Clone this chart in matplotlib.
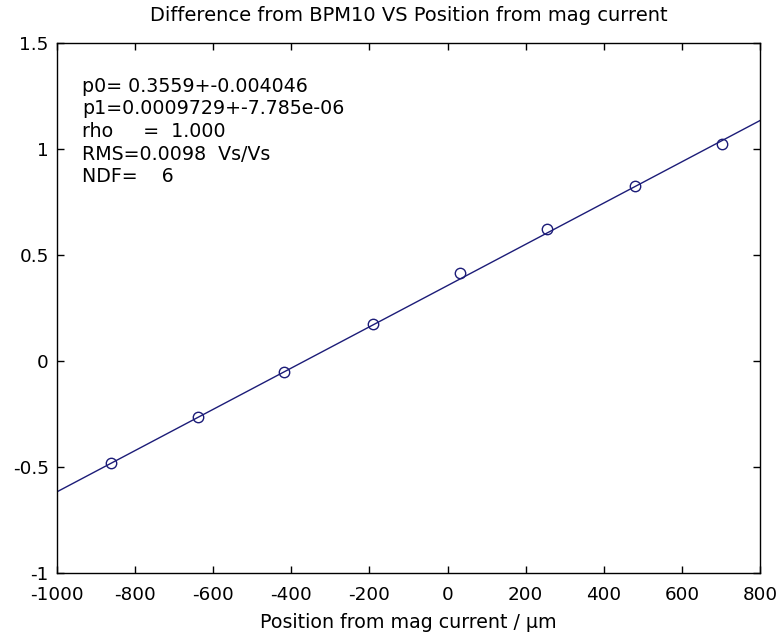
import numpy as np
import matplotlib.pyplot as plt

plt.rcParams['font.family'] = ['DejaVu Sans']
plt.rcParams['axes.unicode_minus'] = False

pos_um = [-862, -640, -418, -192, 32, 254, 480, 702]
diff_vs = [-0.48, -0.266, -0.05, 0.173, 0.414, 0.621, 0.825, 1.024]

# fit parameters as printed on the chart
p0 = 0.3559
p1 = 0.0009729
fit_text = ["p0= 0.3559+-0.004046",
            "p1=0.0009729+-7.785e-06",
            "rho     =  1.000",
            "RMS=0.0098  Vs/Vs",
            "NDF=    6"]

xticks = [-1000, -800, -600, -400, -200, 0, 200, 400, 600, 800]
yticks = [-1, -0.5, 0, 0.5, 1, 1.5]
navy = '#1c1c78'


def main():
    fig = plt.figure(figsize=(7.8, 6.38), dpi=100)
    ax = fig.add_axes([57 / 780, 65 / 638, 703 / 780, 530 / 638])

    xf = np.array([-1000, 800])
    ax.plot(xf, p0 + p1 * xf, color=navy, lw=1.0)
    ax.plot(pos_um, diff_vs, 'o', mfc='none', mec=navy, ms=7.5, mew=1.0)

    ax.set_xlim(-1000, 800)
    ax.set_ylim(-1, 1.5)
    ax.set_xticks(xticks)
    ax.set_yticks(yticks)
    ax.set_yticklabels(['-1', '-0.5', '0', '0.5', '1', '1.5'])
    ax.tick_params(direction='in', top=True, right=True, length=5,
                   labelsize=13.2, width=1)
    ax.tick_params(axis='x', pad=9)
    ax.tick_params(axis='y', pad=6)
    for s in ax.spines.values():
        s.set_linewidth(1)

    ax.set_title('Difference from BPM10 VS Position from mag current',
                 fontsize=14, pad=16)
    ax.set_xlabel('Position from mag current / \u03bcm', fontsize=13.7,
                  labelpad=7)

    for i, line in enumerate(fit_text):
        ax.text(0.036, 0.918 - i * 0.0425, line, transform=ax.transAxes,
                fontsize=13.7, va='center', ha='left')

    fig.savefig('out.png', dpi=100)


if __name__ == "__main__":
    main()
